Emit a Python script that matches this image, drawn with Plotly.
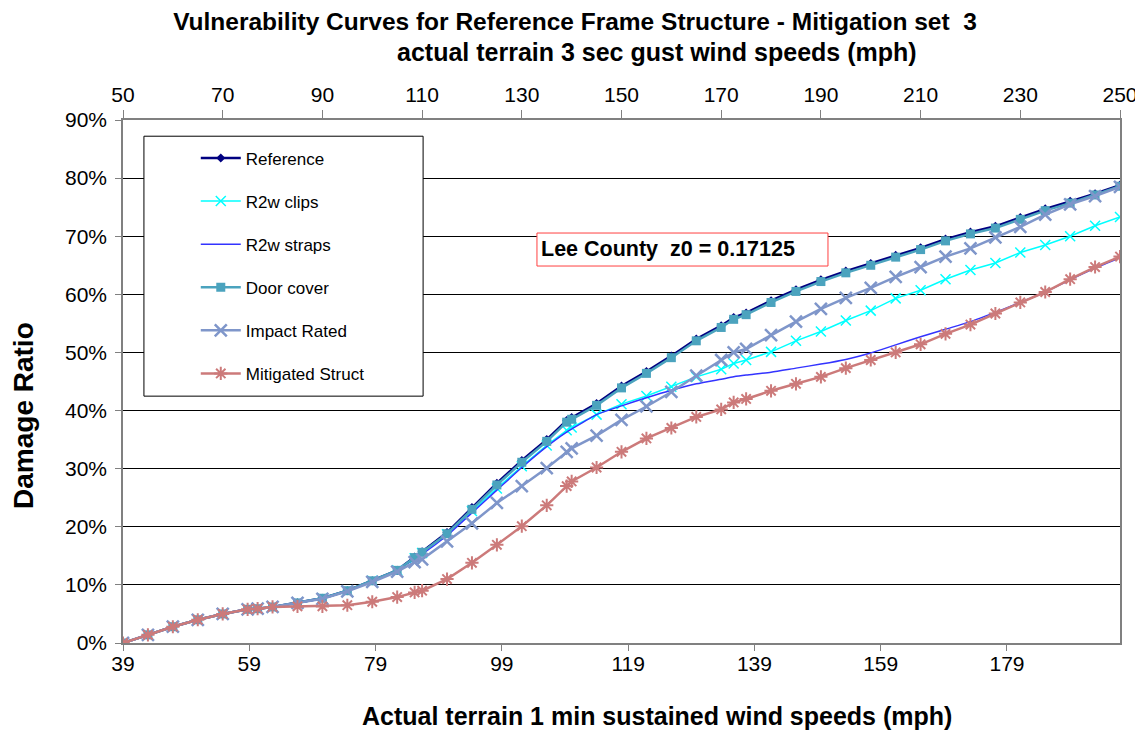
import plotly.graph_objects as go

# 3-sec gust wind speed (mph) – top axis, where the points are sampled
gust = [50, 55, 60, 65, 70, 75, 77, 80, 85, 90, 95, 100, 105, 108.5, 110, 115, 120, 125,
        130, 135, 139, 140, 145, 150, 155, 160, 165, 170, 172.5, 175, 180, 185, 190, 195,
        200, 205, 210, 215, 220, 225, 230, 235, 240, 245, 250]

door_cover = [0.0, 1.4, 2.8, 4.0, 5.0, 5.8, 5.9, 6.2, 6.9, 7.7, 9.0, 10.7, 12.5, 14.7, 15.6,
              18.8, 23.0, 27.2, 31.1, 34.7, 38.0, 38.5, 40.9, 43.9, 46.4, 49.1, 52.0, 54.3,
              55.7, 56.5, 58.6, 60.5, 62.2, 63.7, 65.0, 66.4, 67.7, 69.2, 70.4, 71.4, 72.9,
              74.4, 75.7, 77.1, 78.6]

reference = [0.0, 1.4, 2.8, 4.0, 5.0, 5.8, 5.9, 6.2, 6.9, 7.7, 9.0, 10.7, 12.5, 14.8, 15.7,
             19.0, 23.3, 27.5, 31.4, 35.0, 38.3, 38.8, 41.2, 44.2, 46.7, 49.4, 52.3, 54.6,
             56.0, 56.8, 58.9, 60.8, 62.5, 64.0, 65.3, 66.7, 68.0, 69.5, 70.7, 71.7, 73.2,
             74.7, 76.0, 77.3, 78.8]

r2w_clips = [0.0, 1.4, 2.8, 4.0, 5.0, 5.8, 5.9, 6.2, 6.9, 7.7, 9.0, 10.7, 12.5, 14.6, 15.5,
             18.7, 22.7, 26.6, 30.4, 34.0, 36.6, 37.1, 39.3, 41.1, 42.5, 44.1, 45.8, 47.1,
             48.1, 48.7, 50.1, 52.0, 53.6, 55.5, 57.2, 59.3, 60.7, 62.6, 64.2, 65.4, 67.2,
             68.5, 70.0, 71.8, 73.3]

r2w_straps = [0.0, 1.4, 2.8, 4.0, 5.0, 5.8, 5.9, 6.2, 6.9, 7.7, 9.0, 10.7, 12.5, 14.5, 15.3,
              18.5, 22.4, 26.3, 30.2, 33.8, 36.3, 36.8, 39.3, 40.8, 42.2, 43.5, 44.6, 45.4,
              45.8, 46.1, 46.6, 47.3, 48.0, 48.8, 49.9, 51.3, 52.7, 54.0, 55.3, 56.9, 58.6,
              60.4, 62.5, 64.5, 66.3]

impact_rated = [0.0, 1.4, 2.8, 4.0, 5.0, 5.8, 5.9, 6.2, 6.9, 7.6, 8.9, 10.5, 12.3, 13.9, 14.4,
                17.5, 20.6, 24.1, 27.0, 30.1, 32.9, 33.5, 35.7, 38.4, 40.7, 43.2, 46.0, 48.7,
                50.0, 50.6, 53.0, 55.3, 57.5, 59.4, 61.1, 63.0, 64.7, 66.5, 67.9, 69.8, 71.6,
                73.7, 75.5, 76.9, 78.5]

mitigated = [0.0, 1.4, 2.8, 4.0, 5.0, 5.8, 5.9, 6.2, 6.3, 6.3, 6.5, 7.1, 7.9, 8.7, 9.0,
             11.0, 13.8, 16.9, 20.1, 23.7, 27.0, 27.8, 30.2, 32.9, 35.2, 37.0, 38.9, 40.2,
             41.4, 42.0, 43.4, 44.6, 45.8, 47.3, 48.7, 50.0, 51.4, 53.2, 54.8, 56.7, 58.6,
             60.4, 62.6, 64.7, 66.5]

# bottom axis (1-min sustained) range and ticks
sustained_range = [39, 196.9]
sustained_tick0 = 39
gust_range = [50, 250]

FONT = "Liberation Sans, Arial, sans-serif"
W, H = 1135, 728  # page body adds an 8px offset

def pct(v):
    return [x / 100 for x in v]

fig = go.Figure()

# invisible trace to bind the bottom (sustained) axis
fig.add_trace(go.Scatter(x=sustained_range, y=[None, None], xaxis="x", yaxis="y",
                         mode="lines", showlegend=False, hoverinfo="skip"))

series = [
    ("Reference", reference, dict(mode="lines+markers", line=dict(color="#000080", width=2.5),
                                  marker=dict(symbol="diamond", size=7, color="#000080"))),
    ("R2w clips", r2w_clips, dict(mode="lines+markers", line=dict(color="#00FFFF", width=1.5),
                                  marker=dict(symbol="x-thin", size=10,
                                              line=dict(color="#00FFFF", width=1.5)))),
    ("R2w straps", r2w_straps, dict(mode="lines", line=dict(color="#3333FF", width=1.5,
                                                             shape="spline", smoothing=0.6))),
    ("Door cover", door_cover, dict(mode="lines+markers", line=dict(color="#4BA3BE", width=2.5),
                                    marker=dict(symbol="square", size=9, color="#4BA3BE"))),
    ("Impact Rated", impact_rated, dict(mode="lines+markers", line=dict(color="#7F96CA", width=2.5),
                                        marker=dict(symbol="x-thin", size=12,
                                                    line=dict(color="#7F96CA", width=2.5)))),
    ("Mitigated Struct", mitigated, dict(mode="lines+markers", line=dict(color="#CC7A7A", width=2.5),
                                         marker=dict(symbol="asterisk", size=11,
                                                     line=dict(color="#CC7A7A", width=2)))),
]

for i, (name, vals, style) in enumerate(series):
    fig.add_trace(go.Scatter(x=gust, y=pct(vals), name=name, xaxis="x2", yaxis="y",
                             legendgroup=f"g{i}", **style))

axis_col = "#808080"
fig.update_layout(
    width=W, height=H,
    paper_bgcolor="white", plot_bgcolor="white",
    margin=dict(l=115, r=23, t=112, b=93, autoexpand=False),
    font=dict(family=FONT, color="black", size=21),
    title=dict(text="Vulnerability Curves for Reference Frame Structure - Mitigation set\u00a0 3",
               x=(575 - 8) / W, xanchor="center", y=1 - 13 / H, yanchor="middle",
               font=dict(family=FONT, size=24.5, color="black", weight="bold")),
    xaxis=dict(range=sustained_range, tick0=sustained_tick0, dtick=20, showgrid=False,
               zeroline=False, showline=True, linecolor=axis_col, linewidth=1.5,
               ticks="outside", ticklen=6, tickcolor=axis_col, automargin=False,
               ticklabelstandoff=-5,
               tickfont=dict(size=21, family=FONT)),
    xaxis2=dict(range=gust_range, tick0=50, dtick=20, overlaying="x", side="top", anchor="y",
                showgrid=False, zeroline=False, showline=True, linecolor=axis_col, linewidth=1.5,
                ticks="outside", ticklen=8, tickcolor=axis_col, automargin=False,
                tickfont=dict(size=21, family=FONT)),
    yaxis=dict(range=[0, 0.9], dtick=0.1, tickformat=".0%", showgrid=True,
               gridcolor="black", gridwidth=1, zeroline=False, showline=True,
               linecolor=axis_col, linewidth=1.5, mirror=True, automargin=False,
               ticks="outside", ticklen=6, tickcolor=axis_col, ticklabelstandoff=4,
               tickfont=dict(size=21, family=FONT)),
    legend=dict(x=0.073, y=0.961, xanchor="left", yanchor="top",
                bgcolor="rgba(0,0,0,0)", borderwidth=0,
                font=dict(size=17, family=FONT), traceorder="grouped",
                tracegroupgap=18, itemwidth=40),
    shapes=[
        dict(type="rect", xref="paper", yref="paper", x0=0.021, x1=0.301,
             y0=0.472, y1=0.969, line=dict(color="black", width=1),
             fillcolor="white", layer="above"),
        dict(type="rect", xref="paper", yref="paper", x0=0.4152, x1=0.7071,
             y0=0.7208, y1=0.7839, line=dict(color="#FF4040", width=1),
             fillcolor="white", layer="above"),
    ],
    annotations=[
        dict(text="<b>Lee County\u00a0 z0 = 0.17125</b>", xref="paper", yref="paper",
             x=0.4193, y=0.7524, xanchor="left", yanchor="middle", showarrow=False,
             align="left", borderpad=0, borderwidth=0,
             font=dict(size=21.5, family=FONT, color="black")),
        dict(text="<b>actual terrain 3 sec gust wind speeds (mph)</b>", xref="paper",
             yref="paper", x=0.5356, y=1.130, xanchor="center", yanchor="middle",
             showarrow=False, font=dict(size=25, family=FONT, color="black")),
        dict(text="<b>Actual terrain 1 min sustained wind speeds (mph)</b>", xref="paper",
             yref="paper", x=0.5356, y=-0.1396, xanchor="center", yanchor="middle",
             showarrow=False, font=dict(size=25, family=FONT, color="black")),
        dict(text="<b>Damage Ratio</b>", xref="paper", yref="paper",
             x=-0.0993, y=0.436, xanchor="center", yanchor="middle", showarrow=False,
             textangle=-90, borderpad=0, font=dict(size=28, family=FONT, color="black")),
    ],
)

fig.write_html("out.html")
